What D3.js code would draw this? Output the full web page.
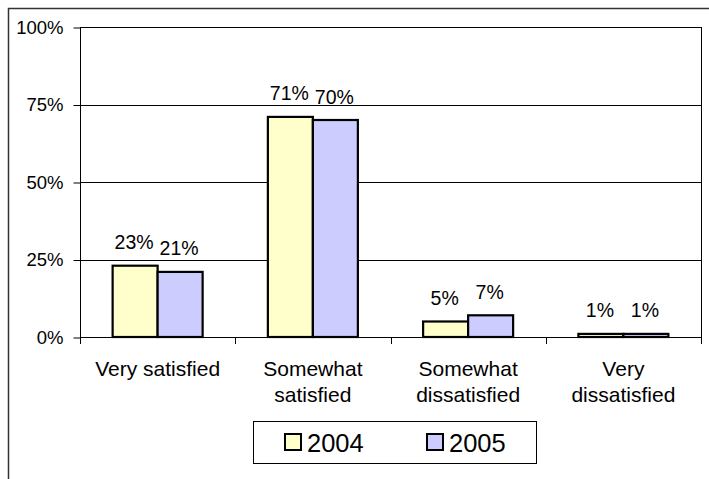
<!DOCTYPE html>
<html><head><meta charset="utf-8">
<script src="https://cdn.jsdelivr.net/npm/d3@7"></script>
<style>
html,body{margin:0;padding:0;background:#fff;}
svg{display:block;font-family:"Liberation Sans",Arial,sans-serif;}
</style></head>
<body>
<script>
const categories = [["Very satisfied"], ["Somewhat", "satisfied"], ["Somewhat", "dissatisfied"], ["Very", "dissatisfied"]];
const seriesNames = ["2004", "2005"];
const values2004 = [0.23, 0.71, 0.05, 0.01];
const values2005 = [0.21, 0.70, 0.07, 0.01];
const seriesValues = [values2004, values2005];
const seriesColors = ["#FFFFCC", "#CCCCFF"];
const yTicks = [0, 0.25, 0.5, 0.75, 1];

(function() {
const W = 709, H = 479;
const svg = d3.select("body").append("svg").attr("width", W).attr("height", H);

// outer border
svg.append("rect").attr("x", 8.5).attr("y", 8.5).attr("width", 720).attr("height", 500)
  .attr("fill", "none").attr("stroke", "#333").attr("stroke-width", 1.5);

const pLeft = 80, pRight = 701, pTop = 27, pBottom = 337;
const x = d3.scaleBand().domain(d3.range(categories.length)).range([pLeft, pRight]).paddingInner(0).paddingOuter(0);
const xs = d3.scaleBand().domain(d3.range(seriesNames.length)).range([0, x.bandwidth()]).paddingInner(0).paddingOuter(0.725);
const y = d3.scaleLinear().domain([0, 1]).range([pBottom, pTop]);

// gridlines
svg.append("g").selectAll("line").data(yTicks.filter(d => d > 0)).join("line")
  .attr("x1", pLeft).attr("x2", pRight)
  .attr("y1", d => Math.round(y(d)) + 0.5).attr("y2", d => Math.round(y(d)) + 0.5)
  .attr("stroke", "#000").attr("stroke-width", 1);

// right border of plot
svg.append("line").attr("x1", pRight + 0.5).attr("x2", pRight + 0.5).attr("y1", pTop).attr("y2", pBottom + 6)
  .attr("stroke", "#000");

// y axis
const yAxis = d3.axisLeft(y).tickValues(yTicks).tickFormat(d3.format(".0%")).tickSize(7).tickPadding(10);
const yg = svg.append("g").attr("transform", `translate(${pLeft + 0.5},0.5)`).call(yAxis);
yg.select(".domain").attr("d", `M0,${pTop}V${pBottom + 6}`);
yg.selectAll(".tick line").attr("stroke", "#000");
yg.selectAll("text").attr("font-size", 18.5).attr("fill", "#000").attr("font-family", "'Liberation Sans',Arial,sans-serif");

// x axis line and ticks
svg.append("line").attr("x1", pLeft).attr("x2", pRight + 1).attr("y1", pBottom + 0.5).attr("y2", pBottom + 0.5).attr("stroke", "#000");
svg.append("g").selectAll("line").data(d3.range(categories.length + 1)).join("line")
  .attr("x1", d => Math.round(pLeft + d * x.step()) + 0.5).attr("x2", d => Math.round(pLeft + d * x.step()) + 0.5)
  .attr("y1", pBottom).attr("y2", pBottom + 7).attr("stroke", "#000");

// bars
const groups = svg.append("g").selectAll("g").data(categories.map((c, i) => i)).join("g")
  .attr("transform", i => `translate(${x(i)},0)`);
groups.selectAll("rect").data(i => seriesValues.map((vals, s) => ({s, v: vals[i]}))).join("rect")
  .attr("x", d => xs(d.s)).attr("width", xs.bandwidth())
  .attr("y", d => y(d.v)).attr("height", d => y(0) - y(d.v))
  .attr("fill", d => seriesColors[d.s]).attr("stroke", "#000").attr("stroke-width", 2.2);
groups.selectAll("text.lbl").data(i => seriesValues.map((vals, s) => ({s, v: vals[i]}))).join("text")
  .attr("class", "lbl")
  .attr("x", d => xs(d.s) + xs.bandwidth() / 2 - 1)
  .attr("y", d => y(d.v) - 16.5)
  .attr("text-anchor", "middle").attr("font-size", 19.5).attr("fill", "#000")
  .text(d => d3.format(".0%")(d.v));

// category labels
const cl = svg.append("g").selectAll("text").data(categories).join("text")
  .attr("x", (c, i) => x(i) + x.bandwidth() / 2).attr("y", 376)
  .attr("text-anchor", "middle").attr("font-size", 21).attr("fill", "#000");
cl.selectAll("tspan").data(c => c).join("tspan")
  .attr("x", function() { return d3.select(this.parentNode).attr("x"); })
  .attr("dy", (d, j) => j === 0 ? 0 : 25.5).text(d => d);

// legend
const lg = svg.append("g");
lg.append("rect").attr("x", 253.5).attr("y", 421.5).attr("width", 283).attr("height", 42)
  .attr("fill", "#fff").attr("stroke", "#000").attr("stroke-width", 1);
const legendX = [285, 427];
seriesNames.forEach((n, s) => {
  lg.append("rect").attr("x", legendX[s]).attr("y", 434).attr("width", 16).attr("height", 16)
    .attr("fill", seriesColors[s]).attr("stroke", "#000").attr("stroke-width", 2);
  lg.append("text").attr("x", legendX[s] + 22).attr("y", 451.5).attr("font-size", 25.5).attr("fill", "#000").text(n);
});
})();
</script>
</body></html>
